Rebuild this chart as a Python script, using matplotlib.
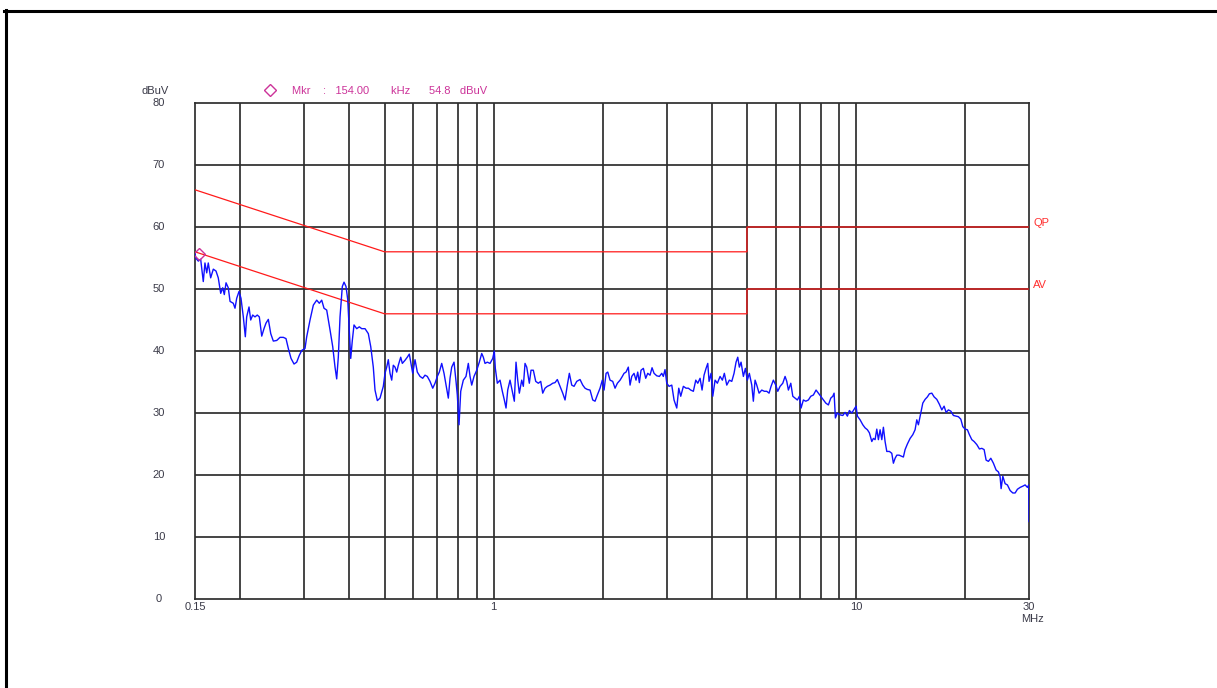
import matplotlib
matplotlib.use("Agg")
import matplotlib.pyplot as plt
from matplotlib.lines import Line2D
from matplotlib.ticker import NullLocator
from matplotlib.transforms import blended_transform_factory

plt.rcParams["font.family"] = ["Liberation Sans", "DejaVu Sans"]

# ---------------- data ----------------
freq_mhz = [
    0.1500, 0.1507, 0.1532, 0.1555, 0.1581, 0.1598, 0.1616, 0.1632, 0.1657, 0.1685,
    0.1714, 0.1739, 0.1766, 0.1789, 0.1807, 0.1827, 0.1853, 0.1874, 0.1913, 0.1934,
    0.1955, 0.1984, 0.2009, 0.2039, 0.2065, 0.2083, 0.2114, 0.2137, 0.2164, 0.2196,
    0.2228, 0.2257, 0.2292, 0.2325, 0.2355, 0.2390, 0.2427, 0.2467, 0.2521, 0.2574,
    0.2629, 0.2674, 0.2714, 0.2761, 0.2814, 0.2862, 0.2910, 0.2955, 0.3017, 0.3050,
    0.3115, 0.3181, 0.3250, 0.3304, 0.3355, 0.3404, 0.3463, 0.3537, 0.3598, 0.3651,
    0.3690, 0.3728, 0.3769, 0.3824, 0.3866, 0.3915, 0.3958, 0.3998, 0.4034, 0.4075,
    0.4119, 0.4191, 0.4260, 0.4326, 0.4418, 0.4511, 0.4581,
    0.4656, 0.4707, 0.4777, 0.4859, 0.4962, 0.5016, 0.5070, 0.5122, 0.5178, 0.5234,
    0.5287, 0.5345, 0.5403, 0.5458, 0.5542, 0.5599, 0.5695, 0.5779, 0.5853, 0.5905,
    0.5981, 0.6069, 0.6158, 0.6265, 0.6373, 0.6467, 0.6562, 0.6676, 0.6792, 0.6892,
    0.6993, 0.7082, 0.7191, 0.7297, 0.7390, 0.7499, 0.7581, 0.7663, 0.7776, 0.7875,
    0.7940, 0.7991, 0.8027, 0.8114, 0.8249, 0.8391, 0.8515, 0.8608, 0.8701, 0.8829,
    0.8982, 0.9131, 0.9272, 0.9367, 0.9468, 0.9608, 0.9774, 0.9943, 1.0044, 1.0109,
    1.0238, 1.0415, 1.0569, 1.0704, 1.0820, 1.0937, 1.1098, 1.1291, 1.1406, 1.1529,
    1.1654, 1.1774, 1.1954, 1.2077, 1.2208, 1.2341, 1.2546, 1.2682, 1.2869, 1.3067,
    1.3285, 1.3489, 1.3661, 1.3862, 1.4066, 1.4309, 1.4557, 1.4771, 1.4989, 1.5249,
    1.5512, 1.5741, 1.5972, 1.6177, 1.6425, 1.6667, 1.6956, 1.7316, 1.7615, 1.7873,
    1.8136, 1.8451, 1.8771, 1.9047, 1.9327, 1.9660, 1.9949,
    2.017, 2.043, 2.065, 2.095, 2.131, 2.163, 2.195, 2.233, 2.265, 2.290,
    2.319, 2.353, 2.379, 2.405, 2.440, 2.471, 2.498, 2.524, 2.551, 2.589,
    2.628, 2.662, 2.701, 2.736, 2.771, 2.819, 2.866, 2.910, 2.939, 2.971,
    3.004, 3.048, 3.101, 3.146, 3.201, 3.242, 3.283, 3.338, 3.396, 3.446,
    3.498, 3.557, 3.612, 3.658, 3.712, 3.759, 3.807, 3.856, 3.898, 3.930,
    3.980, 4.024, 4.083, 4.143, 4.215, 4.277, 4.331, 4.398, 4.471, 4.540,
    4.606, 4.665, 4.716, 4.764, 4.816, 4.887, 4.950, 5.012, 5.076, 5.155,
    5.207, 5.264, 5.321, 5.400, 5.493, 5.584, 5.670, 5.754, 5.827, 5.913,
    6.004, 6.081, 6.170, 6.277, 6.370, 6.439, 6.505, 6.605, 6.690, 6.788,
    6.888, 6.976, 7.051, 7.155, 7.265, 7.386, 7.500, 7.624, 7.756, 7.871,
    7.991, 8.124, 8.250, 8.387, 8.516,
    8.625, 8.697, 8.769, 8.881, 9.034, 9.191, 9.326, 9.463, 9.584, 9.732,
    9.875, 10.001, 10.084, 10.259, 10.437, 10.590, 10.746, 10.883, 11.051, 11.163,
    11.285, 11.407, 11.524, 11.649, 11.776, 11.896, 12.024, 12.155, 12.358, 12.547,
    12.676, 12.814, 12.953, 13.144, 13.370, 13.507, 13.654, 13.855, 14.095, 14.338,
    14.549, 14.707, 14.858, 15.087, 15.280, 15.505, 15.733, 15.934, 16.180, 16.418,
    16.701, 16.979, 17.241, 17.494, 17.718, 17.979, 18.256, 18.560, 18.882, 19.159,
    19.453, 19.702, 19.992, 20.286, 20.545, 20.862, 21.169, 21.536, 21.895, 22.230,
    22.557, 22.845, 23.181, 23.538, 23.930, 24.345, 24.703, 24.971, 25.129, 25.402,
    25.776, 26.155, 26.609, 27.068, 27.469, 27.873, 28.357, 28.846, 29.270, 29.701,
    29.95, 30.0,
]

level_dbuv = [
    55.8, 55.0, 54.5, 54.8, 51.2, 54.2, 52.6, 54.2, 51.8, 53.2,
    52.9, 51.8, 49.3, 50.2, 49.1, 51.0, 50.2, 48.0, 47.7, 46.9,
    48.5, 49.6, 48.5, 45.5, 42.3, 45.5, 47.1, 45.0, 45.8, 45.5,
    45.8, 45.5, 42.4, 43.6, 44.5, 45.1, 42.8, 41.6, 41.7, 42.2,
    42.2, 42.0, 40.4, 38.8, 37.9, 38.2, 39.3, 40.1, 40.4, 42.3,
    45.0, 47.4, 48.2, 47.7, 48.2, 46.9, 46.6, 43.4, 40.7, 37.4,
    35.5, 39.0, 45.5, 50.4, 51.1, 50.4, 48.3, 43.4, 38.8, 41.7,
    44.2, 43.6, 43.9, 43.6, 43.6, 42.8, 40.7,
    37.4, 33.7, 32.0, 32.4, 34.3, 36.4, 37.4, 38.6, 36.4, 35.3,
    37.7, 37.4, 36.6, 37.7, 39.0, 38.0, 38.5, 39.0, 39.5, 38.2,
    36.4, 38.6, 36.6, 35.9, 35.6, 36.1, 35.9, 35.1, 34.0, 34.8,
    35.9, 36.6, 38.0, 36.4, 34.5, 32.4, 35.6, 37.4, 38.2, 35.1,
    32.9, 30.0, 28.1, 33.5, 35.3, 35.9, 38.0, 35.9, 34.5, 35.9,
    36.9, 38.2, 39.6, 39.0, 38.0, 38.2, 38.0, 38.8, 40.0, 37.2,
    34.8, 35.3, 33.5, 32.1, 30.8, 33.7, 35.3, 33.2, 31.9, 38.2,
    35.3, 33.2, 35.3, 34.3, 38.0, 37.4, 34.8, 36.9, 36.9, 35.1,
    34.8, 35.1, 33.2, 34.0, 34.3, 34.5, 34.8, 34.9, 35.4, 34.3,
    33.2, 32.1, 34.5, 36.4, 34.5, 34.3, 35.1, 35.4, 34.5, 34.0,
    33.8, 33.7, 32.1, 31.9, 32.9, 34.0, 35.3,
    33.7, 36.4, 36.6, 35.3, 35.1, 34.0, 34.8, 35.3, 35.9, 36.4,
    36.6, 37.4, 34.5, 35.9, 36.4, 35.3, 36.6, 34.9, 36.9, 37.2,
    35.6, 36.4, 36.1, 37.3, 36.4, 36.0, 35.9, 36.4, 35.9, 37.0,
    34.8, 34.3, 34.5, 32.1, 30.8, 34.0, 32.7, 34.3, 34.0, 34.0,
    33.7, 33.5, 35.3, 34.8, 35.6, 33.7, 36.1, 37.2, 38.0, 35.1,
    36.4, 32.7, 35.3, 34.8, 35.9, 35.3, 36.4, 34.5, 35.3, 35.1,
    36.4, 38.2, 39.0, 37.4, 38.2, 35.9, 37.2, 35.3, 36.4, 34.5,
    31.9, 35.3, 34.5, 33.2, 33.7, 33.5, 33.5, 33.2, 34.3, 35.3,
    34.5, 33.5, 34.3, 34.8, 35.9, 35.1, 33.7, 34.8, 32.7, 32.4,
    32.1, 32.7, 30.8, 32.1, 31.9, 32.1, 32.7, 32.9, 33.7, 33.2,
    32.7, 32.1, 31.6, 31.3, 32.4,
    32.7, 33.2, 29.2, 30.0, 29.7, 29.6, 30.1, 29.5, 30.4, 30.0,
    30.6, 31.1, 29.5, 28.9, 28.1, 27.6, 27.3, 26.8, 25.4, 25.9,
    25.7, 27.4, 25.7, 27.3, 25.7, 27.7, 25.4, 23.8, 23.8, 23.5,
    21.9, 22.7, 23.2, 23.2, 23.0, 22.9, 24.1, 25.0, 25.9, 26.5,
    27.3, 28.9, 28.1, 30.0, 31.6, 32.2, 32.6, 33.1, 33.2, 32.6,
    32.2, 31.4, 30.5, 31.1, 30.1, 30.5, 30.3, 29.6, 29.5, 29.4,
    29.0, 27.8, 27.4, 27.3, 26.5, 25.7, 25.4, 24.9, 24.2, 24.3,
    24.1, 22.4, 22.2, 22.7, 21.9, 20.8, 20.5, 19.7, 17.8, 19.8,
    18.6, 18.4, 17.5, 17.1, 17.1, 17.7, 18.0, 18.2, 18.4, 18.0,
    18.4, 12.5,
]

qp_freq = [0.15, 0.5, 5.0, 5.0, 30.0]
qp_limit = [66, 56, 56, 60, 60]
av_freq = [0.15, 0.5, 5.0, 5.0, 30.0]
av_limit = [56, 46, 46, 50, 50]

grid_freqs = [0.2, 0.3, 0.4, 0.5, 0.6, 0.7, 0.8, 0.9, 1, 2, 3, 4, 5, 6, 7, 8, 9, 10, 20]
y_ticks = [0, 10, 20, 30, 40, 50, 60, 70, 80]
x_tick_vals = [0.15, 1, 10, 30]
x_tick_labels = ["0.15", "1", "10", "30"]

marker_freq = 0.154
marker_level = 55.7
marker_text = "Mkr    :   154.00       kHz      54.8   dBuV"

# ---------------- figure ----------------
W, H = 1217, 688
fig = plt.figure(figsize=(W / 100, H / 100), dpi=100)
fig.patch.set_facecolor("white")

# outer frame (top and left edges visible)
fig.add_artist(Line2D([4 / W, 1.0], [1 - 10.8 / H, 1 - 10.8 / H], color="black", lw=2.2,
                      transform=fig.transFigure))
fig.add_artist(Line2D([5.5 / W, 5.5 / W], [0.0, 1 - 9.5 / H], color="black", lw=2.2,
                      transform=fig.transFigure))

ax = fig.add_axes([195 / W, 1 - 599 / H, 834 / W, 496 / H])
ax.set_xscale("log")
ax.set_xlim(0.15, 30)
ax.set_ylim(0, 80)
ax.xaxis.set_major_locator(NullLocator())
ax.xaxis.set_minor_locator(NullLocator())
ax.yaxis.set_major_locator(NullLocator())
ax.yaxis.set_minor_locator(NullLocator())

gc = "#2e2e2e"
for f in grid_freqs:
    ax.axvline(f, color=gc, lw=1.25, zorder=1)
for y in y_ticks[1:-1]:
    ax.axhline(y, color=gc, lw=1.25, zorder=1)
for sp in ax.spines.values():
    sp.set_color(gc)
    sp.set_linewidth(1.25)

# limit lines
ax.plot(qp_freq, qp_limit, color="#ff1a1a", lw=0.9, zorder=3)
ax.plot(av_freq, av_limit, color="#ff1a1a", lw=0.9, zorder=3)

# measurement trace
ax.plot(freq_mhz, level_dbuv, color="#1010ff", lw=1.0, zorder=4)

# marker
ax.plot([marker_freq], [marker_level], marker="D", ms=6.5, mfc="none",
        mec="#cc3399", mew=1.0, zorder=5)

tick_color = "#3a3a48"
fs = 8
ty = blended_transform_factory(ax.transAxes, ax.transData)
for v in y_ticks:
    ax.text(-36 / 834, v, str(v), transform=ty, ha="center", va="center",
            fontsize=fs, color=tick_color)

tx = blended_transform_factory(ax.transData, ax.transAxes)
for v, lab in zip(x_tick_vals, x_tick_labels):
    ax.text(v, -8 / 496, lab, transform=tx, ha="center", va="center",
            fontsize=fs, color=tick_color)
ax.text((1032 - 195) / 834, -20 / 496, "MHz", transform=ax.transAxes,
        ha="center", va="center", fontsize=fs, color=tick_color)

ax.text(-53 / 834, 1 + 12 / 496, "dBuV", transform=ax.transAxes, ha="left",
        va="center", fontsize=fs, color=tick_color)

# marker readout header
ax.plot([75 / 834], [1 + 13 / 496], marker="D", ms=6, mfc="none", mec="#cc3399",
        mew=1.0, transform=ax.transAxes, clip_on=False)
ax.text(97 / 834, 1 + 12 / 496, marker_text, transform=ax.transAxes, ha="left",
        va="center", fontsize=fs, color="#cc3399")

# limit labels
ax.text(1 + 4 / 834, 60.6, "QP", transform=ty, ha="left", va="center",
        fontsize=fs, color="#ff3030")
ax.text(1 + 4 / 834, 50.6, "AV", transform=ty, ha="left", va="center",
        fontsize=fs, color="#ff3030")

fig.savefig("out.png", dpi=100, facecolor="white")
